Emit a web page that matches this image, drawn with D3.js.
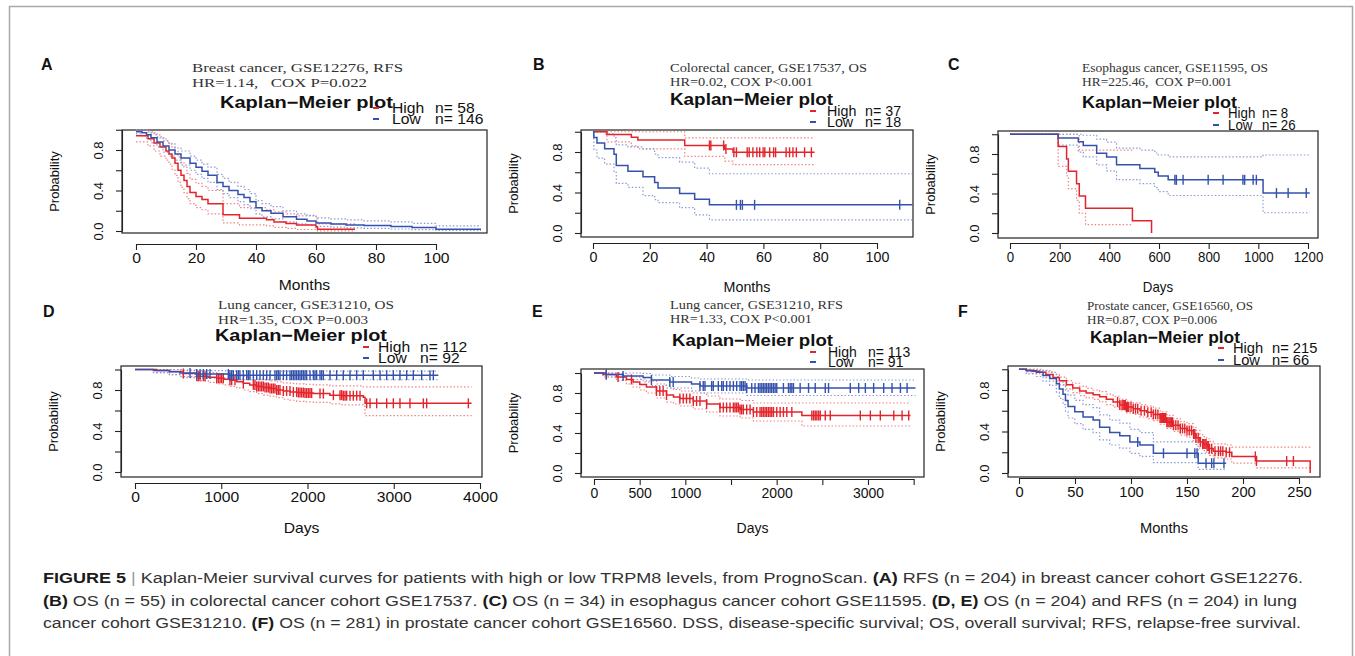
<!DOCTYPE html>
<html>
<head>
<meta charset="utf-8">
<script src="https://cdn.jsdelivr.net/npm/d3@7"></script>
<style>
  body { margin: 0; background: #fff; }
  svg text { font-family: "Liberation Sans", Arial, sans-serif; }
  .serif { font-family: "Liberation Serif", "Times New Roman", serif; white-space: pre; }
  .cap { font-family: "Liberation Sans Narrow", "Liberation Sans", Arial, sans-serif; }
</style>
</head>
<body>
<svg id="fig" width="1355" height="656"></svg>
<script>
// ---- data ----
// each curve: T = step times, S = survival, U/L = dotted confidence band, C = censor times

// A  breast cancer GSE12276 RFS (months)
const aHighT = [0, 4, 6, 8, 10, 11, 12, 13, 14, 15, 16, 17, 18, 20, 22, 24, 29, 34.5, 43.5, 46, 50, 53.5, 60, 60.5, 73];
const aHighS = [0.94, 0.91, 0.87, 0.83, 0.79, 0.76, 0.72, 0.67, 0.60, 0.55, 0.50, 0.44, 0.38, 0.34, 0.31, 0.27, 0.16, 0.125, 0.11, 0.09, 0.075, 0.06, 0.04, 0.017, 0.017];
const aHighU = [1.0, 0.98, 0.95, 0.92, 0.89, 0.86, 0.83, 0.79, 0.73, 0.68, 0.63, 0.57, 0.51, 0.47, 0.44, 0.40, 0.27, 0.23, 0.21, 0.19, 0.17, 0.15, 0.12, 0.07, 0.07];
const aHighL = [0.88, 0.84, 0.79, 0.74, 0.70, 0.66, 0.61, 0.55, 0.48, 0.43, 0.38, 0.32, 0.27, 0.23, 0.21, 0.17, 0.08, 0.06, 0.05, 0.035, 0.025, 0.015, 0.008, 0.002, 0.002];
const aHighC = [];
const aLowT = [0, 2, 3.5, 5, 7, 9, 11, 13, 15, 18, 20, 22, 24, 27, 29, 31, 34, 36, 38, 40, 42, 45, 49, 53.5, 57, 60, 65, 70, 76, 85, 92, 100, 115];
const aLowS = [0.98, 0.97, 0.95, 0.92, 0.88, 0.84, 0.80, 0.76, 0.72, 0.67, 0.63, 0.59, 0.55, 0.48, 0.44, 0.40, 0.36, 0.33, 0.29, 0.23, 0.20, 0.175, 0.14, 0.115, 0.10, 0.08, 0.07, 0.06, 0.055, 0.045, 0.035, 0.017, 0.017];
const aLowU = [1.0, 1.0, 0.99, 0.97, 0.93, 0.89, 0.86, 0.82, 0.79, 0.74, 0.70, 0.66, 0.63, 0.56, 0.52, 0.48, 0.44, 0.41, 0.37, 0.30, 0.27, 0.24, 0.20, 0.17, 0.155, 0.13, 0.12, 0.11, 0.10, 0.09, 0.075, 0.05, 0.05];
const aLowL = [0.96, 0.94, 0.91, 0.87, 0.83, 0.78, 0.74, 0.70, 0.65, 0.60, 0.56, 0.52, 0.48, 0.41, 0.37, 0.33, 0.29, 0.26, 0.22, 0.17, 0.14, 0.12, 0.09, 0.07, 0.06, 0.045, 0.038, 0.03, 0.026, 0.02, 0.014, 0.005, 0.005];
const aLowC = [];

// B  colorectal cancer GSE17537 OS (months)
const bHighT = [0, 4.9, 13.5, 15.8, 32.3, 46.4, 49.3, 78];
const bHighS = [1, 0.973, 0.946, 0.919, 0.865, 0.83, 0.797, 0.797];
const bHighU = [1, 1, 1, 1, 0.94, 0.94, 0.94, 0.94];
const bHighL = [1, 0.90, 0.86, 0.83, 0.757, 0.71, 0.675, 0.675];
const bHighC = [41, 41.5, 46, 46.8, 49.6, 50.5, 54.3, 55, 56.3, 57.7, 58.7, 59.9, 60.5, 62.2, 63.6, 64.3, 68, 69.2, 70.4, 71.6, 74.5, 76.9];
const bLowT = [0, 0.3, 1.4, 4.1, 7.4, 8.2, 12.3, 17.6, 21.7, 22.9, 30.5, 35.8, 41, 112.5];
const bLowS = [1, 0.944, 0.889, 0.833, 0.778, 0.667, 0.611, 0.556, 0.5, 0.444, 0.389, 0.333, 0.278, 0.278];
const bLowU = [1, 1, 1, 0.98, 0.94, 0.87, 0.85, 0.83, 0.78, 0.745, 0.70, 0.64, 0.585, 0.585];
const bLowL = [1, 0.82, 0.74, 0.68, 0.60, 0.49, 0.45, 0.37, 0.33, 0.30, 0.25, 0.18, 0.13, 0.13];
const bLowC = [50.5, 51.9, 52.6, 56.9, 108];

// C  esophagus cancer GSE11595 OS (days)
const cHighT = [0, 194, 228, 235, 268, 279, 304, 493, 570];
const cHighS = [1, 0.875, 0.75, 0.625, 0.5, 0.375, 0.25, 0.125, 0];
const cHighU = [1, 1, 1, 1, 1, 0.84, 0.84, 0.84, null];
const cHighL = [1, 0.675, 0.58, 0.45, 0.33, 0.2, 0.085, 0.085, null];
const cHighC = [];
const cLowT = [0, 194, 275, 295, 349, 389, 429, 523, 583, 597, 637, 1019, 1207];
const cLowS = [1, 0.962, 0.923, 0.885, 0.808, 0.769, 0.692, 0.654, 0.615, 0.577, 0.538, 0.404, 0.404];
const cLowU = [1, 1, 1, 0.99, 0.95, 0.92, 0.86, 0.84, 0.81, 0.79, 0.77, 0.79, 0.79];
const cLowL = [1, 0.89, 0.82, 0.77, 0.69, 0.63, 0.54, 0.50, 0.46, 0.42, 0.38, 0.205, 0.205];
const cLowC = [664, 670, 697, 798, 858, 938, 945, 979, 992, 1073, 1120, 1193];

// D  lung cancer GSE31210 OS (days)
const dHighT = [0, 250, 400, 560, 715, 850, 947, 1030, 1100, 1180, 1256, 1330, 1410, 1490, 1565, 1640, 1720, 1800, 1875, 1960, 2068, 2260, 2400, 2647, 2667, 3903];
const dHighS = [1, 0.99, 0.98, 0.96, 0.935, 0.925, 0.915, 0.905, 0.895, 0.88, 0.865, 0.85, 0.835, 0.825, 0.815, 0.80, 0.79, 0.78, 0.775, 0.77, 0.765, 0.75, 0.745, 0.73, 0.67, 0.67];
const dHighU = [1, 1, 1, 0.99, 0.975, 0.97, 0.96, 0.955, 0.95, 0.94, 0.93, 0.92, 0.91, 0.90, 0.89, 0.88, 0.87, 0.865, 0.86, 0.855, 0.85, 0.84, 0.84, 0.83, 0.83, 0.83];
const dHighL = [1, 0.97, 0.95, 0.92, 0.89, 0.875, 0.86, 0.85, 0.835, 0.82, 0.80, 0.785, 0.765, 0.75, 0.74, 0.725, 0.71, 0.70, 0.69, 0.685, 0.68, 0.665, 0.655, 0.64, 0.55, 0.55];
const dHighC = [560, 715, 734, 754, 792, 812, 947, 966, 986, 1005, 1024, 1101, 1121, 1159, 1256, 1372, 1391, 1411, 1430, 1449, 1469, 1488, 1507, 1527, 1546, 1565, 1585, 1604, 1623, 1643, 1662, 1681, 1720, 1758, 1797, 1836, 1874, 1894, 1913, 1932, 1952, 1971, 1990, 2010, 2029, 2048, 2145, 2184, 2300, 2377, 2396, 2415, 2435, 2454, 2493, 2531, 2570, 2609, 2686, 2725, 2802, 2918, 2995, 3072, 3188, 3343, 3382, 3865];
const dLowT = [0, 213, 400, 520, 700, 1100, 3517];
const dLowS = [1, 0.99, 0.978, 0.967, 0.956, 0.945, 0.945];
const dLowU = [1, 1, 1, 0.995, 0.99, 0.985, 0.985];
const dLowL = [1, 0.97, 0.95, 0.93, 0.915, 0.90, 0.90];
const dLowC = [638, 715, 754, 792, 831, 870, 1082, 1101, 1121, 1140, 1179, 1198, 1217, 1256, 1295, 1314, 1333, 1372, 1411, 1449, 1488, 1527, 1565, 1623, 1643, 1662, 1681, 1720, 1758, 1797, 1816, 1836, 1855, 1874, 1894, 1913, 1932, 1952, 1971, 1990, 2029, 2068, 2087, 2106, 2145, 2164, 2184, 2261, 2338, 2415, 2493, 2570, 2647, 2763, 2841, 2918, 2995, 3072, 3150, 3227, 3324, 3420, 3459];

// E  lung cancer GSE31210 RFS (days)
const eHighT = [0, 99, 245, 355, 428, 501, 574, 684, 794, 870, 940, 1087, 1233, 1379, 1599, 1745, 2276, 3465];
const eHighS = [1, 0.985, 0.96, 0.935, 0.91, 0.885, 0.86, 0.82, 0.78, 0.76, 0.745, 0.72, 0.69, 0.655, 0.635, 0.61, 0.575, 0.575];
const eHighU = [1, 1, 0.995, 0.98, 0.96, 0.94, 0.92, 0.89, 0.85, 0.835, 0.82, 0.80, 0.77, 0.74, 0.725, 0.70, 0.70, 0.70];
const eHighL = [1, 0.96, 0.925, 0.89, 0.86, 0.83, 0.80, 0.75, 0.71, 0.69, 0.67, 0.64, 0.61, 0.57, 0.55, 0.52, 0.47, 0.47];
const eHighC = [135, 263, 410, 684, 721, 757, 794, 940, 977, 1013, 1050, 1087, 1123, 1160, 1233, 1379, 1416, 1452, 1489, 1526, 1544, 1562, 1580, 1599, 1617, 1635, 1672, 1709, 1745, 1782, 1818, 1837, 1855, 1873, 1891, 1910, 1928, 1946, 1965, 2001, 2038, 2074, 2111, 2166, 2385, 2404, 2422, 2440, 2459, 2477, 2532, 2587, 2916, 3026, 3135, 3282, 3373, 3446];
const eLowT = [0, 135, 318, 538, 629, 830, 1068, 1160, 1672, 3520];
const eLowS = [1, 0.985, 0.97, 0.955, 0.93, 0.91, 0.89, 0.87, 0.85, 0.85];
const eLowU = [1, 1, 1, 0.995, 0.98, 0.965, 0.95, 0.94, 0.93, 0.93];
const eLowL = [1, 0.96, 0.935, 0.91, 0.875, 0.85, 0.82, 0.80, 0.775, 0.775];
const eLowC = [135, 318, 629, 830, 867, 1160, 1196, 1215, 1288, 1306, 1361, 1398, 1416, 1452, 1489, 1526, 1562, 1599, 1617, 1635, 1654, 1672, 1727, 1763, 1800, 1818, 1837, 1855, 1873, 1891, 1910, 1928, 1946, 1965, 1983, 2001, 2074, 2129, 2148, 2166, 2184, 2257, 2349, 2422, 2532, 2568, 2806, 2898, 2971, 3062, 3172, 3263, 3355, 3428];

// F  prostate cancer GSE16560 OS (months)
const fHighT = [0, 6.5, 12, 18.5, 24, 30.4, 36, 42.3, 48, 54.2, 60, 66.2, 72, 78, 84, 90, 96, 102, 108, 114, 120, 126, 132, 137.7, 144, 150, 155.5, 158, 161.5, 164, 167.5, 170, 173.4, 185, 190, 212, 260];
const fHighS = [1, 0.99, 0.98, 0.97, 0.95, 0.92, 0.89, 0.85, 0.82, 0.79, 0.77, 0.755, 0.735, 0.71, 0.685, 0.655, 0.635, 0.62, 0.60, 0.585, 0.565, 0.53, 0.49, 0.46, 0.43, 0.41, 0.375, 0.34, 0.30, 0.28, 0.26, 0.235, 0.21, 0.2, 0.16, 0.115, 0];
const fHighU = [1, 1, 1, 0.99, 0.975, 0.95, 0.925, 0.89, 0.865, 0.835, 0.815, 0.80, 0.785, 0.76, 0.74, 0.71, 0.69, 0.675, 0.66, 0.645, 0.625, 0.59, 0.555, 0.525, 0.495, 0.475, 0.44, 0.41, 0.37, 0.35, 0.33, 0.305, 0.28, 0.27, 0.25, 0.25, 0.25];
const fHighL = [1, 0.975, 0.96, 0.945, 0.92, 0.885, 0.85, 0.81, 0.775, 0.745, 0.725, 0.71, 0.685, 0.66, 0.635, 0.60, 0.58, 0.565, 0.54, 0.525, 0.505, 0.47, 0.43, 0.40, 0.365, 0.345, 0.31, 0.275, 0.235, 0.215, 0.195, 0.17, 0.145, 0.135, 0.095, 0.05, 0.05];
const fHighC = [88, 90, 92, 93, 94, 95, 96, 97, 98, 100, 102, 104, 106, 109, 112, 115, 118, 120, 122, 124, 126, 127, 128, 129, 130, 131, 132, 133, 134, 135, 136, 137, 138, 140, 142, 144, 146, 148, 150, 152, 154, 156, 157, 158, 160, 162, 164, 165, 166, 167, 168, 169, 170, 172, 175, 178, 180, 182, 185, 188, 211, 212, 239, 245];
const fLowT = [0, 6.5, 15.5, 21.5, 27.4, 33.4, 36, 39.3, 41.5, 43.8, 49.8, 57.2, 66.2, 72, 81, 90, 99, 108, 120, 160, 185];
const fLowS = [1, 0.985, 0.97, 0.94, 0.91, 0.86, 0.81, 0.76, 0.70, 0.64, 0.59, 0.54, 0.51, 0.44, 0.39, 0.36, 0.30, 0.27, 0.19, 0.095, 0.095];
const fLowU = [1, 1, 1, 0.99, 0.97, 0.93, 0.89, 0.85, 0.80, 0.75, 0.70, 0.66, 0.63, 0.56, 0.51, 0.48, 0.42, 0.39, 0.30, 0.19, 0.19];
const fLowL = [1, 0.955, 0.93, 0.885, 0.845, 0.78, 0.72, 0.66, 0.59, 0.53, 0.475, 0.42, 0.39, 0.32, 0.27, 0.24, 0.19, 0.16, 0.10, 0.035, 0.035];
const fLowC = [106, 129, 150, 157, 159, 167, 172, 174, 183];

// text
const panelLetters = ["A", "B", "C", "D", "E", "F"];
const titleLine1 = ["Breast cancer, GSE12276, RFS", "Colorectal cancer, GSE17537, OS", "Esophagus cancer, GSE11595, OS",
  "Lung cancer, GSE31210, OS", "Lung cancer, GSE31210, RFS", "Prostate cancer, GSE16560, OS"];
const titleLine2 = ["HR=1.14,   COX P=0.022", "HR=0.02, COX P<0.001", "HR=225.46,  COX P=0.001",
  "HR=1.35, COX P=0.003", "HR=1.33, COX P<0.001", "HR=0.87, COX P=0.006"];
const highN = [58, 37, 8, 112, 113, 215];
const lowN = [146, 18, 26, 92, 91, 66];
const xTitles = ["Months", "Months", "Days", "Days", "Days", "Months"];
const xTicksA = [0, 20, 40, 60, 80, 100];
const xTicksB = [0, 20, 40, 60, 80, 100];
const xTicksC = [0, 200, 400, 600, 800, 1000, 1200];
const xTicksD = [0, 1000, 2000, 3000, 4000];
const xTicksE = [0, 500, 1000, 1500, 2000, 2500, 3000, 3500];
const xLabelsE = [0, 500, 1000, 2000, 3000];
const xTicksF = [0, 50, 100, 150, 200, 250];
const yTicks = [0, 0.2, 0.4, 0.6, 0.8, 1.0];
const yLabels = [0, 0.4, 0.8];

const captionLines = [
  [["FIGURE 5", "b"], [" | ", "g"], ["Kaplan-Meier survival curves for patients with high or low TRPM8 levels, from PrognoScan. ", "n"], ["(A)", "b"], [" RFS (n = 204) in breast cancer cohort GSE12276.", "n"]],
  [["(B)", "b"], [" OS (n = 55) in colorectal cancer cohort GSE17537. ", "n"], ["(C)", "b"], [" OS (n = 34) in esophagus cancer cohort GSE11595. ", "n"], ["(D, E)", "b"], [" OS (n = 204) and RFS (n = 204) in lung", "n"]],
  [["cancer cohort GSE31210. ", "n"], ["(F)", "b"], [" OS (n = 281) in prostate cancer cohort GSE16560. DSS, disease-specific survival; OS, overall survival; RFS, relapse-free survival.", "n"]]
];

const RED = "#e3242b", BLUE = "#3452ad", RED_CI = "#f08585", BLUE_CI = "#8b9bd6";

// layout of each panel (pixel positions only)
const panels = [
  { box: [122, 487, 130, 233], xRef: [0, 100], xPx: [136, 436], yPx: [231, 150], axisY: 244, xTicks: xTicksA, xLabels: xTicksA,
    letter: [41, 70], t1: [192, 72, 211], t2: [192, 87, 175], km: [220, 108, 173], leg: [373, 392, 435, 113, 124], sx: 1.12, xtY: 290,
    hi: [aHighT, aHighS, aHighU, aHighL, aHighC], lo: [aLowT, aLowS, aLowU, aLowL, aLowC] },
  { box: [581, 913, 130, 237], xRef: [0, 100], xPx: [593, 877], yPx: [233, 152], axisY: 243, xTicks: xTicksB, xLabels: xTicksB,
    letter: [533, 70], t1: [670, 72, 197], t2: [670, 86, 143], km: [670, 105, 163], leg: [810, 827, 865, 116, 127], sx: 1.02, xtY: 292,
    hi: [bHighT, bHighS, bHighU, bHighL, bHighC], lo: [bLowT, bLowS, bLowU, bLowL, bLowC] },
  { box: [998, 1318, 131, 238], xRef: [0, 1200], xPx: [1010, 1308], yPx: [233, 154], axisY: 243, xTicks: xTicksC, xLabels: xTicksC,
    letter: [948, 70], t1: [1082, 72, 186], t2: [1082, 86, 150], km: [1082, 108, 155], leg: [1213, 1228, 1262, 118, 130], sx: 0.95, xtY: 292,
    hi: [cHighT, cHighS, cHighU, cHighL, cHighC], lo: [cLowT, cLowS, cLowU, cLowL, cLowC] },
  { box: [121, 482, 366, 477], xRef: [0, 4000], xPx: [135, 480], yPx: [472, 390], axisY: 483, xTicks: xTicksD, xLabels: xTicksD,
    letter: [43, 317], t1: [218, 309, 176], t2: [218, 324, 150], km: [215, 341, 172], leg: [363, 378, 420, 352, 363], sx: 1.12, xtY: 533,
    hi: [dHighT, dHighS, dHighU, dHighL, dHighC], lo: [dLowT, dLowS, dLowU, dLowL, dLowC] },
  { box: [581, 924, 369, 477], xRef: [0, 3000], xPx: [594, 868], yPx: [473, 393], axisY: 479, xTicks: xTicksE, xLabels: xLabelsE,
    letter: [532, 317], t1: [670, 309, 173], t2: [670, 323, 142], km: [672, 346, 161], leg: [810, 828, 868, 357, 367], sx: 1.0, xtY: 533,
    hi: [eHighT, eHighS, eHighU, eHighL, eHighC], lo: [eLowT, eLowS, eLowU, eLowL, eLowC] },
  { box: [1008, 1320, 366, 477], xRef: [0, 250], xPx: [1019, 1299], yPx: [473, 390], axisY: 478, xTicks: xTicksF, xLabels: xTicksF,
    letter: [958, 317], t1: [1087, 310, 166], t2: [1087, 324, 130], km: [1090, 343, 150], leg: [1218, 1233, 1272, 353, 365], sx: 1.05, xtY: 533,
    hi: [fHighT, fHighS, fHighU, fHighL, fHighC], lo: [fLowT, fLowS, fLowU, fLowL, fLowC] }
];

const svg = d3.select("#fig");

// outer frame
svg.append("rect")
  .attr("x", 9.5).attr("y", 6.5).attr("width", 1343).attr("height", 700)
  .attr("fill", "none").attr("stroke", "#a8a8a8").attr("stroke-width", 1.5);

function stretched(g, x, y, str, size, sx, anchor) {
  return g.append("text")
    .attr("transform", `translate(${x},${y}) scale(${sx},1)`)
    .attr("font-size", size)
    .attr("text-anchor", anchor || "start")
    .attr("fill", "#111")
    .text(str);
}

function fitted(g, x, y, str, size, len) {
  return g.append("text")
    .attr("x", x).attr("y", y)
    .attr("font-size", size)
    .attr("textLength", len)
    .attr("lengthAdjust", "spacingAndGlyphs")
    .text(str);
}

function drawPanel(p, i) {
  const g = svg.append("g");
  const x = d3.scaleLinear().domain(p.xRef).range(p.xPx);
  const y = d3.scaleLinear().domain([0, 0.8]).range(p.yPx);
  const [bl, br, bt, bb] = p.box;

  // panel letter
  g.append("text").attr("x", p.letter[0]).attr("y", p.letter[1])
    .attr("font-size", 16).attr("font-weight", "bold").attr("fill", "#111").text(panelLetters[i]);

  // titles
  fitted(g, p.t1[0], p.t1[1], titleLine1[i], 13, p.t1[2]).attr("class", "serif").attr("fill", "#333");
  fitted(g, p.t2[0], p.t2[1], titleLine2[i], 13, p.t2[2]).attr("class", "serif").attr("fill", "#333");
  fitted(g, p.km[0], p.km[1], "Kaplan\u2212Meier plot", 16.5, p.km[2]).attr("font-weight", "bold").attr("fill", "#111");

  // legend
  const [mx, lx, nx, yh, yl] = p.leg;
  [[yh, RED, "High", highN[i]], [yl, BLUE, "Low", lowN[i]]].forEach(([yy, col, lab, n]) => {
    g.append("line").attr("x1", mx).attr("x2", mx + 6).attr("y1", yy - 5).attr("y2", yy - 5)
      .attr("stroke", col).attr("stroke-width", 2);
    stretched(g, lx, yy, lab, 14, p.sx);
    stretched(g, nx, yy, "n= " + n, 14, p.sx);
  });

  // box
  g.append("rect").attr("x", bl).attr("y", bt).attr("width", br - bl).attr("height", bb - bt)
    .attr("fill", "none").attr("stroke", "#222").attr("stroke-width", 1.2);

  // x axis (R style: line from first to last tick, offset under the box)
  const x0 = p.xTicks[0], x1 = p.xTicks[p.xTicks.length - 1];
  const xa = x.copy().domain([x0, x1]).range([x(x0), x(x1)]);
  const xg = g.append("g").attr("transform", `translate(0,${p.axisY})`)
    .call(d3.axisBottom(xa).tickValues(p.xTicks).tickSize(6).tickSizeOuter(0)
      .tickFormat(d => p.xLabels.includes(d) ? d : ""));
  xg.select(".domain").attr("stroke", "#222").attr("stroke-width", 1.1);
  xg.selectAll(".tick line").attr("stroke", "#222").attr("stroke-width", 1.1);
  xg.selectAll(".tick text").attr("font-size", 14).attr("fill", "#111")
    .attr("font-family", "Liberation Sans, Arial, sans-serif")
    .attr("transform", `scale(${p.sx},1)`);

  // y axis at the box edge
  const ya = y.copy().domain([0, 1]).range([y(0), y(1)]);
  const yg = g.append("g").attr("transform", `translate(${bl},0)`)
    .call(d3.axisLeft(ya).tickValues(yTicks).tickSize(6).tickSizeOuter(0)
      .tickFormat(d => yLabels.includes(d) ? d3.format(".1f")(d) : ""));
  yg.select(".domain").attr("stroke", "#222").attr("stroke-width", 1.1);
  yg.selectAll(".tick line").attr("stroke", "#222").attr("stroke-width", 1.1);
  yg.selectAll(".tick text").attr("font-size", 13).attr("fill", "#111")
    .attr("font-family", "Liberation Sans, Arial, sans-serif")
    .attr("transform", "rotate(-90)").attr("x", 0).attr("y", -19).attr("dy", 0)
    .attr("text-anchor", "middle");

  // axis titles
  stretched(g, (bl + br) / 2, p.xtY, xTitles[i], 14, p.sx, "middle");
  g.append("text")
    .attr("transform", `translate(${bl - 68},${(bt + bb) / 2}) rotate(-90)`)
    .attr("font-size", 13).attr("text-anchor", "middle").attr("dy", "0.35em").attr("fill", "#111")
    .text("Probability");

  // curves
  const step = d3.line().x(d => x(d[0])).y(d => y(d[1])).curve(d3.curveStepAfter).defined(d => d[1] != null);
  const series = [[p.hi, RED, RED_CI], [p.lo, BLUE, BLUE_CI]];

  series.forEach(([s, col, ci]) => {
    const [T, S, U, L] = s;
    [U, L].forEach(B => {
      g.append("path").datum(T.map((t, k) => [t, B[k]]))
        .attr("d", step).attr("fill", "none").attr("stroke", ci)
        .attr("stroke-width", 1.2).attr("stroke-dasharray", "1.5,2");
    });
  });
  series.forEach(([s, col]) => {
    const [T, S, , , C] = s;
    g.append("path").datum(T.map((t, k) => [t, S[k]]))
      .attr("d", step).attr("fill", "none").attr("stroke", col).attr("stroke-width", 1.5);
    g.selectAll(null).data(C).enter().append("line")
      .attr("x1", d => x(d)).attr("x2", d => x(d))
      .attr("y1", d => y(S[d3.bisectRight(T, d) - 1]) - 5)
      .attr("y2", d => y(S[d3.bisectRight(T, d) - 1]) + 5)
      .attr("stroke", col).attr("stroke-width", 1.4);
  });
}

panels.forEach(drawPanel);

// caption
const capY = [583, 606, 628];
const capLen = [1260, 1254, 1258];
captionLines.forEach((parts, li) => {
  const t = svg.append("text").attr("class", "cap")
    .attr("x", 43).attr("y", capY[li])
    .attr("font-size", 15.5)
    .attr("textLength", capLen[li]).attr("lengthAdjust", "spacingAndGlyphs")
    .attr("fill", "#333")
    .style("white-space", "pre");
  parts.forEach(([str, kind]) => {
    const ts = t.append("tspan").text(str);
    if (kind === "b") ts.attr("font-weight", "bold").attr("fill", "#1a1a1a");
    if (kind === "g") ts.attr("fill", "#999");
  });
});
</script>
</body>
</html>
